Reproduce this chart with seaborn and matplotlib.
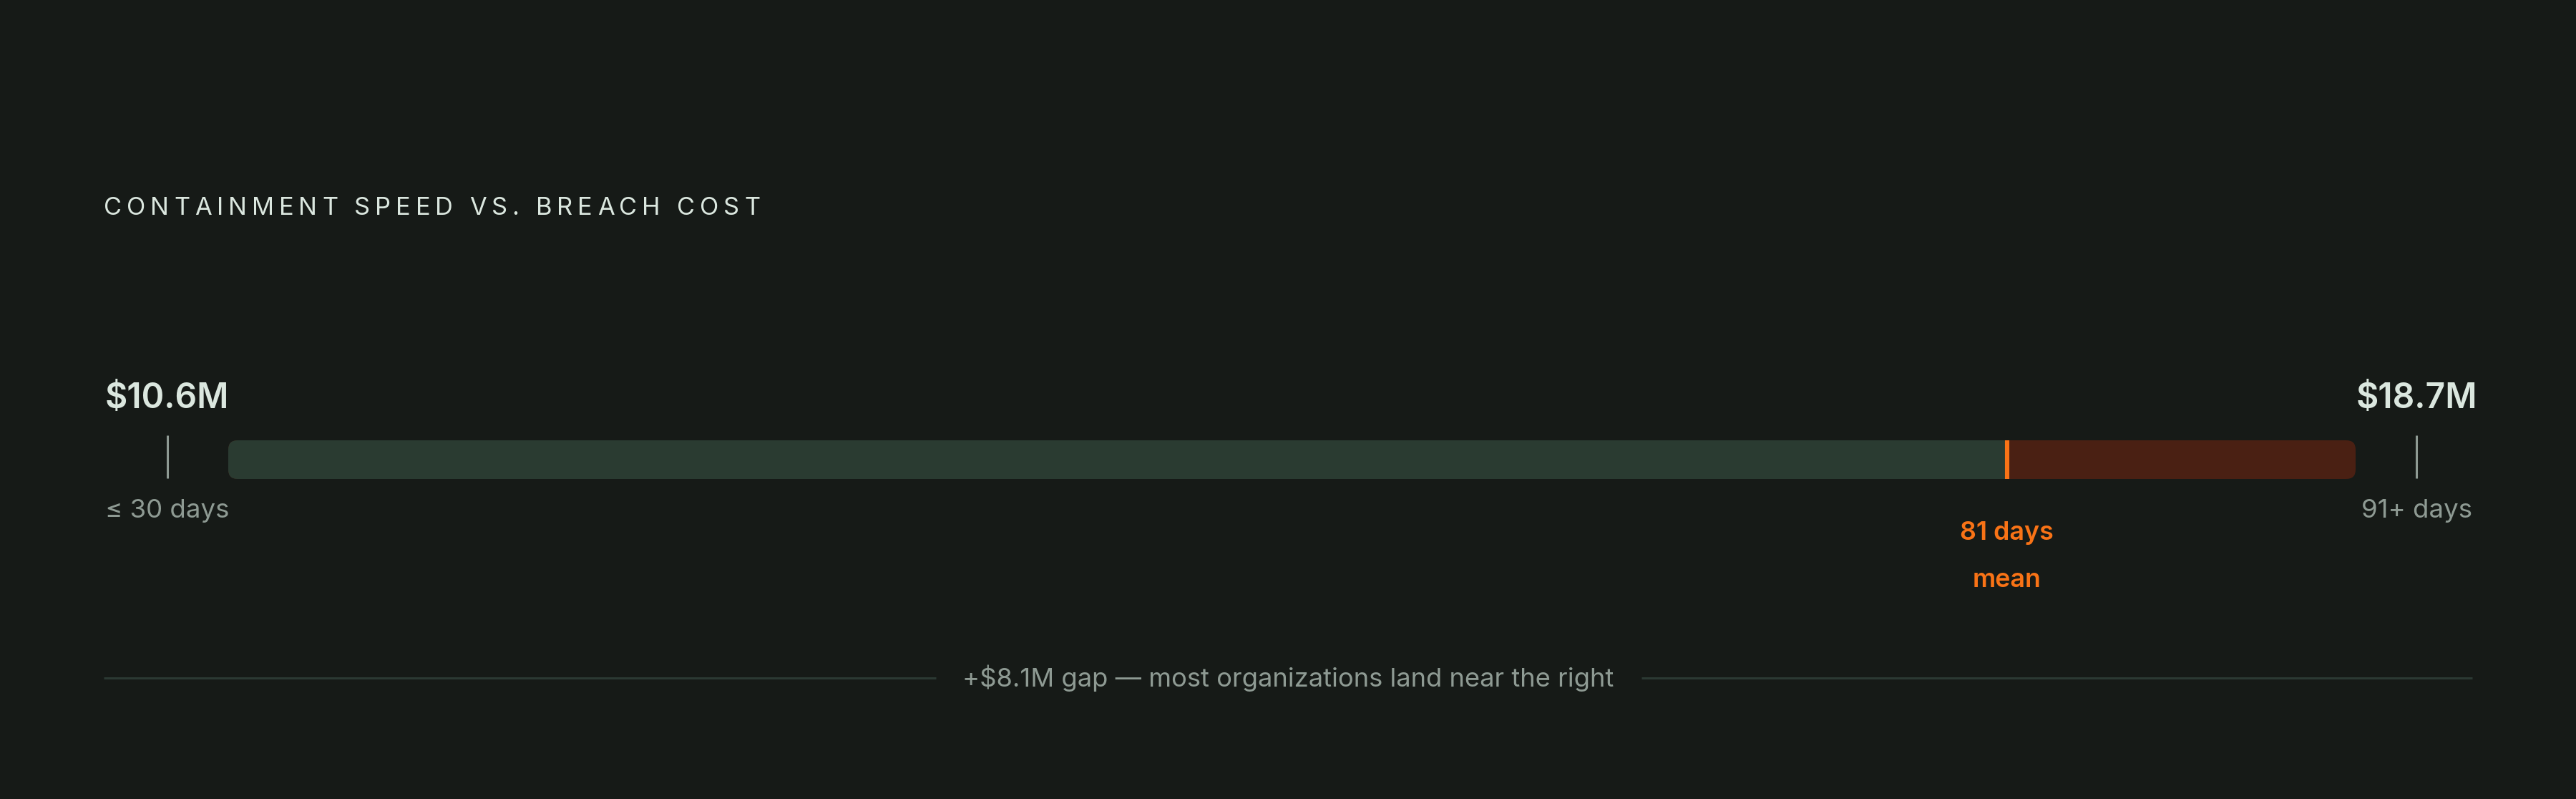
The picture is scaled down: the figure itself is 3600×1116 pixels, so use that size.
import matplotlib
matplotlib.use("Agg")
import matplotlib.pyplot as plt
import matplotlib.transforms as mtransforms
from matplotlib.patches import FancyBboxPatch
import pandas as pd
import seaborn as sns

# --- data ---
days_range = [30, 91]                      # left / right end of the bar (days to contain)
mean_days = 81
segment_names = ["beyond mean", "up to mean"]
segment_ends = [91, 81]                    # bars drawn from the left, later one on top
segment_colors = ["#4a2013", "#2a3b31"]
cost_labels = ["$10.6M", "$18.7M"]
day_labels = ["\u2264 30 days", "91+ days"]
mean_labels = ["81 days", "mean"]
title = "CONTAINMENT SPEED VS. BREACH COST"
footnote = "+$8.1M gap \u2014 most organizations land near the right"

BG = "#161a17"
LIGHT = "#dbe7df"
GRAY = "#8e9a93"
ORANGE = "#f97316"
RULE = "#2b3933"

sns.set_theme(style="white", rc={"figure.facecolor": BG, "axes.facecolor": BG})
plt.rcParams["font.family"] = ["Inter", "DejaVu Sans"]

W, H = 3600, 1116
fig = plt.figure(figsize=(18, 5.58), dpi=200, facecolor=BG)

# overlay axes in pixel units (y down) for the text layout
ov = fig.add_axes([0, 0, 1, 1])
ov.set_xlim(0, W)
ov.set_ylim(H, 0)
ov.axis("off")

# bar axes: days on x
bar_l, bar_r, bar_t, bar_b = 319, 3292, 615, 669
axb = fig.add_axes([bar_l / W, 1 - bar_b / H, (bar_r - bar_l) / W, (bar_b - bar_t) / H])
segs = pd.DataFrame({"segment": segment_names, "end": segment_ends, "row": ["breach"] * 2})
sns.barplot(data=segs, x="end", y="row", hue="segment", orient="h",
            palette=dict(zip(segment_names, segment_colors)), dodge=False,
            width=1, linewidth=0, saturation=1, legend=False, ax=axb)
axb.set_xlim(*days_range)
axb.set_ylim(0.5, -0.5)
axb.axis("off")

# rounded track used as clip for the segments
bw, bh = bar_r - bar_l, bar_b - bar_t
track = FancyBboxPatch((0, 0), 1, 1, boxstyle=f"round,pad=0,rounding_size={13 / bw}",
                       mutation_aspect=bw / bh, transform=axb.transAxes,
                       facecolor="none", edgecolor="none")
for p in axb.patches:
    p.set_clip_path(track)

# mean marker
axb.axvline(mean_days, color=ORANGE, lw=2.2, zorder=5)

# end ticks just outside the bar
pad_days = 1.75
tick_x = [days_range[0] - pad_days, days_range[1] + pad_days]
axb.vlines(tick_x, -0.63, 0.49, color=GRAY, lw=1.1, clip_on=False)

tr = mtransforms.blended_transform_factory(axb.transData, ov.transData)
for x, cost, dl in zip(tick_x, cost_labels, day_labels):
    ov.text(x, 570, cost, transform=tr, ha="center", va="baseline",
            fontsize=17.3, fontweight="semibold", color=LIGHT)
    ov.text(x, 723, dl, transform=tr, ha="center", va="baseline",
            fontsize=13.2, color=GRAY)

ov.text(mean_days, 754, mean_labels[0], transform=tr, ha="center", va="baseline",
        fontsize=12.9, fontweight="semibold", color=ORANGE)
ov.text(mean_days, 820, mean_labels[1], transform=tr, ha="center", va="baseline",
        fontsize=12.9, fontweight="semibold", color=ORANGE)

# letter-spaced title
r = fig.canvas.get_renderer()
tsize = 12.4
em = tsize * 200 / 72
widths = []
for ch in title:
    if ch == " ":
        widths.append(0.26 * em)
    else:
        t = ov.text(0, 0, ch, fontsize=tsize)
        widths.append(t.get_window_extent(r).width)
        t.remove()
target = 1062 - 145
track_px = (target - sum(widths)) / (len(title) - 1)
x = 145
for ch, w in zip(title, widths):
    if ch != " ":
        ov.text(x, 300, ch, ha="left", va="baseline", fontsize=tsize, color=LIGHT)
    x += w + track_px

# footnote with rules either side
ft = ov.text(W / 2, 959, footnote, ha="center", va="baseline", fontsize=13.1, color=GRAY)
bb = ft.get_window_extent(r)
ov.hlines(947, 145, bb.x0 - 37, color=RULE, lw=1.1)
ov.hlines(947, bb.x1 + 39, 3455, color=RULE, lw=1.1)

fig.savefig("out.png", dpi=200, facecolor=BG)
